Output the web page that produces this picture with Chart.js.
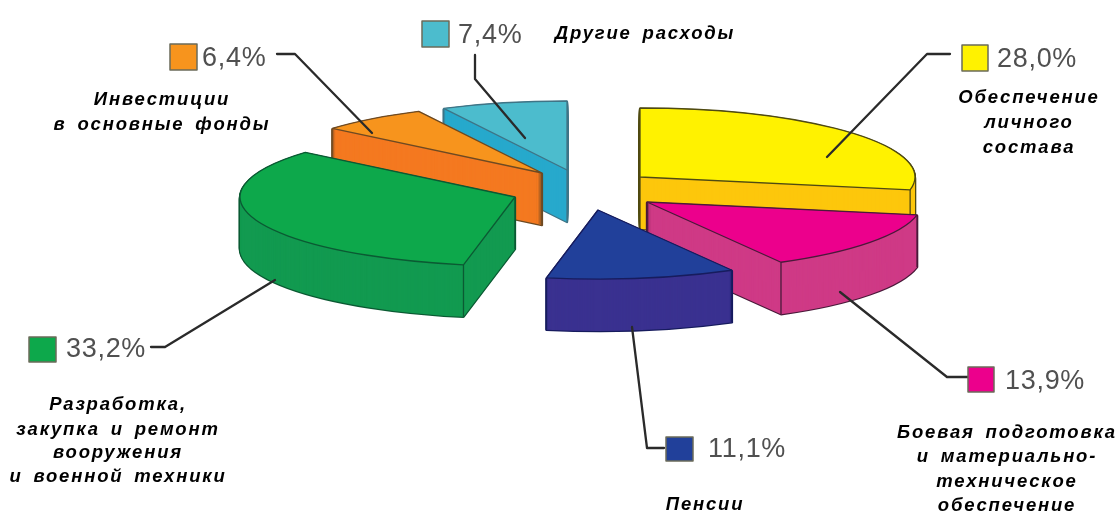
<!DOCTYPE html>
<html lang="ru"><head><meta charset="utf-8">
<script src="https://cdn.jsdelivr.net/npm/chart.js@4"></script>
<style>html,body{margin:0;padding:0;background:#fff}canvas{display:block}</style>
</head><body><canvas id="c" width="1120" height="513"></canvas>
<script>
// data
const categories = ['Обеспечение личного состава','Боевая подготовка и материально-техническое обеспечение','Пенсии','Разработка, закупка и ремонт вооружения и военной техники','Инвестиции в основные фонды','Другие расходы'];
const values = [28.0, 13.9, 11.1, 33.2, 6.4, 7.4];
const percentLabels = ['28,0%','13,9%','11,1%','33,2%','6,4%','7,4%'];
const topColors = ['#FFF200','#EC008C','#21409A','#0DA84B','#F7941D','#4CBCCD'];
const sideColors = ['#FDC70C','#CF3A86','#3A3190','#129A50','#F47920','#27A9CC'];
const edgeColors = ['#4F4A12','#4A1A3A','#171C5E','#0B5A33','#6E4A22','#3F7486'];

// 3D look: ellipse, extrusion, how each slice is pulled from the centre (dx, dy)
const pie = {cx:592, cy:190, rx:275, ry:69, depth:52,
  pull:[[48,-13],[55,12],[6,20],[-77,7],[-50,-17],[-25,-20]],
  order:[5,4,0,3,1,2]};

const captions = [
 {x:1029, lines:[['Обеспечение',103],['личного',128],['состава',153]]},
 {x:1007, lines:[['Боевая подготовка',438],['и материально-',462],['техническое',487],['обеспечение',511]]},
 {x:705,  lines:[['Пенсии',510]]},
 {x:118,  lines:[['Разработка,',410],['закупка и ремонт',435],['вооружения',458],['и военной техники',482]]},
 {x:162,  lines:[['Инвестиции',105],['в основные фонды',130]]},
 {x:645,  lines:[['Другие расходы',39]]}
];
const keys = [
 {box:[962,45,26,26], text:[997,67],  line:[[950,54],[927,54],[827,157]]},
 {box:[968,367,26,25],text:[1005,389],line:[[968,377],[947,377],[840,292]]},
 {box:[666,437,27,24],text:[708,457], line:[[664,448],[647,448],[632,327]]},
 {box:[29,337,27,25], text:[66,357],  line:[[151,347],[165,347],[275,280]]},
 {box:[170,44,27,26], text:[202,66],  line:[[277,54],[295,54],[372,133]]},
 {box:[422,21,27,26], text:[458,43],  line:[[475,55],[475,79],[525,138]]}
];

const pie3d = {
  id:'pie3d',
  beforeDatasetsDraw(chart){
    const ctx = chart.ctx, arcs = chart.getDatasetMeta(0).data;
    const place = (a,i,dy) => {
      const s = a.outerRadius;
      ctx.translate(pie.cx+pie.pull[i][0], pie.cy+pie.pull[i][1]+dy);
      ctx.scale(pie.rx/s, pie.ry/s);
      ctx.translate(-a.x,-a.y);
    };
    const sector = (a,i,dy) => {
      ctx.save(); place(a,i,dy);
      ctx.beginPath(); ctx.moveTo(a.x,a.y);
      ctx.arc(a.x,a.y,a.outerRadius,a.startAngle,a.endAngle);
      ctx.closePath(); ctx.restore();
    };
    const fill = (a,i,dy,color) => {
      const o = a.options;
      a.options = Object.assign(Object.create(o),{backgroundColor:color,borderWidth:0});
      ctx.save(); place(a,i,dy); a.draw(ctx); ctx.restore();
      a.options = o;
    };
    ctx.save();
    ctx.lineJoin='round';
    for (const i of pie.order){
      const a = arcs[i];
      // silhouette of the side
      ctx.strokeStyle = edgeColors[i]; ctx.lineWidth = 2.4;
      for (let d=pie.depth;d>=1;d--){ sector(a,i,d); ctx.stroke(); }
      for (let d=pie.depth;d>=1;d--) fill(a,i,d,sideColors[i]);
      // vertical edges on the front half only
      ctx.lineWidth = 1.3;
      const px = pie.cx+pie.pull[i][0], py = pie.cy+pie.pull[i][1];
      const pts = [[px,py]];
      for (const t of [a.startAngle,a.endAngle])
        if (Math.sin(t) > 0) pts.push([px+Math.cos(t)*pie.rx, py+Math.sin(t)*pie.ry]);
      for (const p of pts){ ctx.beginPath(); ctx.moveTo(p[0],p[1]); ctx.lineTo(p[0],p[1]+pie.depth); ctx.stroke(); }
      // top
      fill(a,i,0,topColors[i]);
      sector(a,i,0); ctx.lineWidth = 1.3; ctx.stroke();
    }
    ctx.restore();
    return false;
  },
  afterDraw(chart){
    const ctx = chart.ctx;
    ctx.save();
    ctx.lineJoin='round'; ctx.lineCap='round';
    keys.forEach((k,i)=>{
      ctx.strokeStyle='#2A2A2A'; ctx.lineWidth=2.3;
      ctx.beginPath(); k.line.forEach((p,j)=> j?ctx.lineTo(p[0],p[1]):ctx.moveTo(p[0],p[1])); ctx.stroke();
      ctx.fillStyle=topColors[i]; ctx.fillRect(...k.box);
      ctx.strokeStyle='#6B6B5A'; ctx.lineWidth=1.5; ctx.strokeRect(...k.box);
      ctx.fillStyle='#505050'; ctx.font='27px "Liberation Sans"'; ctx.textAlign='left'; ctx.textBaseline='alphabetic';
      ctx.letterSpacing='0.7px';
      ctx.fillText(percentLabels[i],k.text[0],k.text[1]);
    });
    ctx.fillStyle='#000'; ctx.font='italic bold 18.5px "Liberation Sans"'; ctx.textAlign='center';
    ctx.letterSpacing='1.8px'; ctx.wordSpacing='4px';
    captions.forEach(c=>c.lines.forEach(l=>ctx.fillText(l[0],c.x,l[1])));
    ctx.restore();
  }
};

new Chart(document.getElementById('c'),{
  type:'pie',
  data:{labels:categories,datasets:[{data:values,backgroundColor:topColors,borderWidth:0}]},
  options:{responsive:false,animation:false,events:[],
    plugins:{legend:{display:false},tooltip:{enabled:false}}},
  plugins:[pie3d]
});
</script></body></html>
